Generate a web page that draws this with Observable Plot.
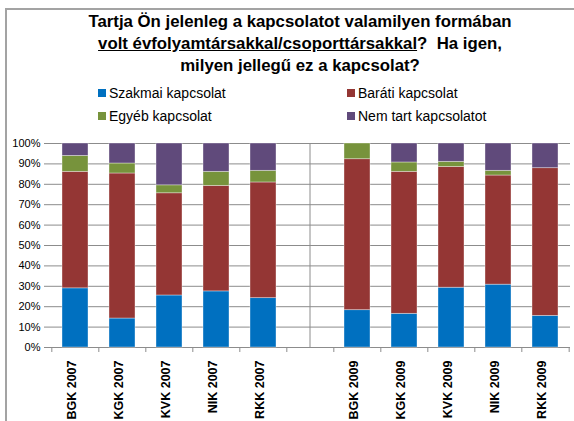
<!DOCTYPE html>
<html>
<head>
<meta charset="utf-8">
<script src="https://cdn.jsdelivr.net/npm/d3@7"></script>
<script src="https://cdn.jsdelivr.net/npm/@observablehq/plot@0.6"></script>
<style>
  html, body { margin: 0; padding: 0; background: #fff; }
  body { width: 574px; height: 421px; overflow: hidden; position: relative; font-family: "Liberation Sans", Arial, sans-serif; }
  #frame { position: absolute; left: 5px; top: 8px; width: 700px; height: 700px; border-left: 2px solid #a3a3a3; border-top: 2px solid #a3a3a3; }
  #title { position: absolute; left: 0; top: 11px; width: 600px; text-align: center; font-weight: bold; font-size: 16.8px; line-height: 22px; color: #000; }
  #legend { position: absolute; left: 0; top: 0; width: 574px; height: 130px; }
  .li { position: absolute; font-size: 14px; color: #000; white-space: nowrap; line-height: 16px; }
  .sw { position: absolute; width: 8px; height: 8px; }
  #chart { position: absolute; left: 0; top: 130px; }
</style>
</head>
<body>
<div id="frame"></div>
<div id="title">Tartja Ön jelenleg a kapcsolatot valamilyen formában<br><u>volt évfolyamtársakkal/csoporttársakkal</u>?&nbsp; Ha igen,<br>milyen jellegű ez a kapcsolat?</div>
<div id="legend"></div>
<div id="chart"></div>
<script>
const categories = ["BGK 2007","KGK 2007","KVK 2007","NIK 2007","RKK 2007","","BGK 2009","KGK 2009","KVK 2009","NIK 2009","RKK 2009"];
const series = ["Szakmai kapcsolat","Baráti kapcsolat","Egyéb kapcsolat","Nem tart kapcsolatot"];
const colors = ["#0070C0","#943634","#77933C","#604A7B"];
const szakmai = [29.0, 14.2, 25.5, 27.5, 24.2, null, 18.3, 16.5, 29.3, 30.8, 15.5];
const barati  = [57.1, 71.1, 50.1, 51.7, 56.7, null, 74.0, 69.6, 59.2, 53.5, 72.4];
const egyeb   = [7.8, 4.9, 3.9, 6.9, 5.7, null, 7.7, 4.6, 2.5, 2.3, 0];
const nem     = [6.1, 9.8, 20.5, 13.9, 13.4, null, 0, 9.3, 9.0, 13.4, 12.1];
const yTicks = [0,10,20,30,40,50,60,70,80,90,100];

const valuesBySeries = [szakmai, barati, egyeb, nem];
const data = [];
categories.forEach((c, i) => {
  if (!c) return;
  series.forEach((s, j) => data.push({cat: c, series: s, value: valuesBySeries[j][i]}));
});

// legend
const legend = document.getElementById("legend");
const legendPos = [[98, 93], [347, 93], [98, 116], [347, 116]];
series.forEach((s, j) => {
  const [lx, ly] = legendPos[j];
  const sw = document.createElement("div");
  sw.className = "sw"; sw.style.background = colors[j];
  sw.style.left = lx + "px"; sw.style.top = (ly - 4) + "px";
  legend.appendChild(sw);
  const t = document.createElement("div");
  t.className = "li"; t.textContent = s;
  t.style.left = (lx + 11) + "px"; t.style.top = (ly - 8) + "px";
  legend.appendChild(t);
});

const W = 574, H = 291, mL = 49, mR = 4, mT = 13, mB = 74;
const step = (W - mL - mR) / categories.length;

const plot = Plot.plot({
  width: W, height: H,
  marginLeft: mL, marginRight: mR, marginTop: mT, marginBottom: mB,
  style: {fontFamily: '"Liberation Sans", Arial, sans-serif', background: "transparent", overflow: "visible", color: "#000"},
  x: {type: "band", domain: categories, paddingInner: 0.45, paddingOuter: 0.225, axis: null, label: null},
  y: {domain: [0, 100], axis: null, label: null},
  color: {domain: series, range: colors},
  marks: [
    Plot.gridY(yTicks, {stroke: "#8c8c8c", strokeOpacity: 1, strokeWidth: 1}),
    Plot.barY(data, {x: "cat", y: "value", fill: "series", order: series, stroke: "#ffffff", strokeOpacity: 0.45, strokeWidth: 0.8}),
    Plot.axisY({ticks: yTicks, tickFormat: d => d + "%", tickSize: 5, tickPadding: 4, fontSize: 11, stroke: "#8c8c8c", fill: "#000", label: null}),
    Plot.ruleX([0], {frameAnchor: "left", stroke: "#8c8c8c", y1: 0, y2: 100, x: null}),
    Plot.axisX({ticks: categories, tickSize: 5, tickFormat: () => "", dx: -step / 2, stroke: "#8c8c8c", label: null}),
    Plot.axisX({ticks: [categories[categories.length - 1]], tickSize: 5, tickFormat: () => "", dx: step / 2, stroke: "#8c8c8c", label: null}),
    Plot.text(categories.filter(c => c), {x: d => d, frameAnchor: "bottom", rotate: -90, textAnchor: "end", dy: 13, fontWeight: "bold", fontSize: 12.5, fill: "#000"})
  ]
});
document.getElementById("chart").appendChild(plot);
</script>
</body>
</html>
